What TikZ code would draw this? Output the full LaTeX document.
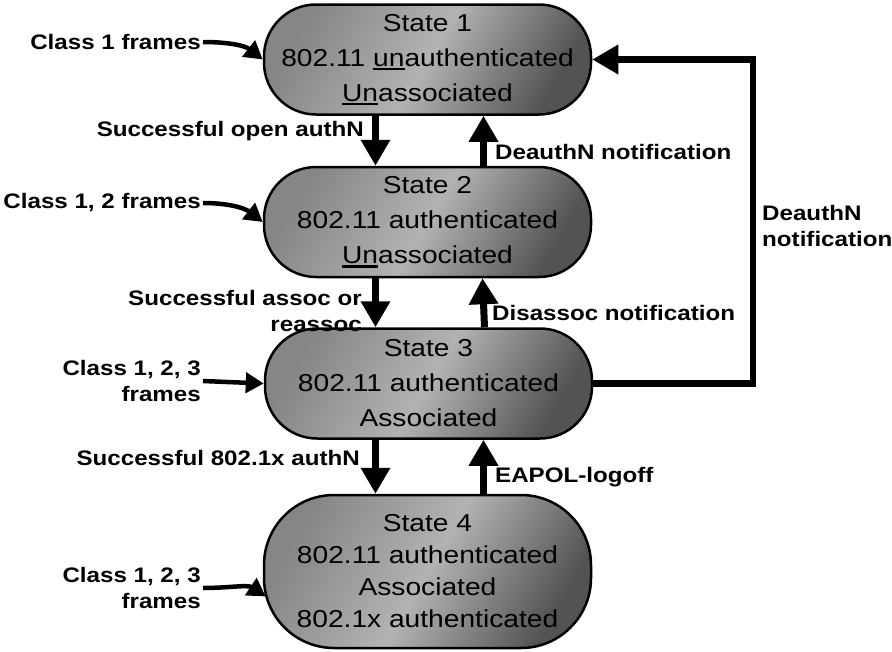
\documentclass[tikz,border=0pt]{standalone}
\usepackage{fontspec}
\setmainfont{Liberation Sans}[FakeStretch=1.15]
\usetikzlibrary{arrows.meta}
\newcommand{\undl}[1]{\sbox0{#1}\rlap{\rule[-4pt]{\wd0}{2.5pt}}\usebox0}
\begin{document}
\begin{tikzpicture}[x=1pt,y=-1pt,
  statebox/.style={draw=black, line width=2.5pt, rectangle, rounded corners=52pt,
    minimum width=327pt, minimum height=110pt, align=center,
    top color=gray!95, bottom color=gray!65!black, middle color=gray!60, shading angle=60,
    font=\fontsize{24.5}{35}\selectfont},
  lbl/.style={font=\bfseries\fontsize{21}{26}\selectfont, inner sep=2pt},
  flow/.style={line width=7pt, line join=miter, -{Triangle[width=28pt,length=26pt]}},
  inflow/.style={line width=4.5pt, -{Triangle[width=20pt,length=18pt]}}]
\useasboundingbox (0,0) rectangle (892,651);
\node[statebox] (s1) at (427.5,59.5) {State 1\\802.11 \undl{un}authenticated\\\undl{Un}associated};
\node[statebox] (s2) at (427.5,222) {State 2\\802.11 authenticated\\\undl{Un}associated};
\node[statebox] (s3) at (428.5,383.5) {State 3\\802.11 authenticated\\Associated};
\node[statebox, minimum height=153pt, rounded corners=70pt, font=\fontsize{24.5}{32}\selectfont] (s4) at (427.5,571.5)
  {State 4\\802.11 authenticated\\Associated\\802.1x authenticated};
\node[lbl, anchor=east] (open) at (366,131) {Successful open authN};
\node[lbl, anchor=west] (deauth) at (493,152) {DeauthN notification};
\node[lbl, anchor=east, align=right] (assoc) at (364,311) {Successful assoc or\\reassoc};
\node[lbl, anchor=west] (disassoc) at (490,313) {Disassoc notification};
\node[lbl, anchor=east] (dotx) at (362,458) {Successful 802.1x authN};
\node[lbl, anchor=west] (logoff) at (493,477) {EAPOL-logoff};
\node[lbl, anchor=west, align=left] (deauthr) at (760,226) {DeauthN\\notification};
\node[lbl, anchor=east] (cls1) at (203,42) {Class 1 frames};
\node[lbl, anchor=east] (cls2) at (203,203) {Class 1, 2 frames};
\node[lbl, anchor=east, align=right] (cls3) at (203,381) {Class 1, 2, 3\\frames};
\node[lbl, anchor=east, align=right] (cls4) at (203,588) {Class 1, 2, 3\\frames};
\coordinate (loopx) at (753,220);
\draw[flow] ([xshift=-52pt]s1.south) -- ([xshift=-52pt]s2.north);
\draw[flow] ([xshift=56pt]s2.north) -- ([xshift=56pt]s1.south);
\draw[flow] ([xshift=-52pt]s2.south) -- ([xshift=-53pt]s3.north);
\draw[flow] ([xshift=56pt]s3.north) -- ([xshift=55pt]s2.south);
\draw[flow] ([xshift=-53pt]s3.south) -- ([xshift=-52pt]s4.north);
\draw[flow] ([xshift=56pt]s4.north) -- ([xshift=55pt]s3.south);
\draw[flow, line width=6.5pt] (s3.east) -- (s3.east -| loopx) |- (s1.east);
\draw[inflow] (cls1.east) .. controls +(25,0) and +(-18,-14) .. (s1.west);
\draw[inflow] (cls2.east) .. controls +(25,0) and +(-18,-14) .. (s2.west);
\draw[inflow] (cls3.east) -- (s3.west);
\draw[inflow] (cls4.east) .. controls +(25,0) and +(-18,-12) .. ([xshift=3pt,yshift=-25pt]s4.west);
\end{tikzpicture}
\end{document}
